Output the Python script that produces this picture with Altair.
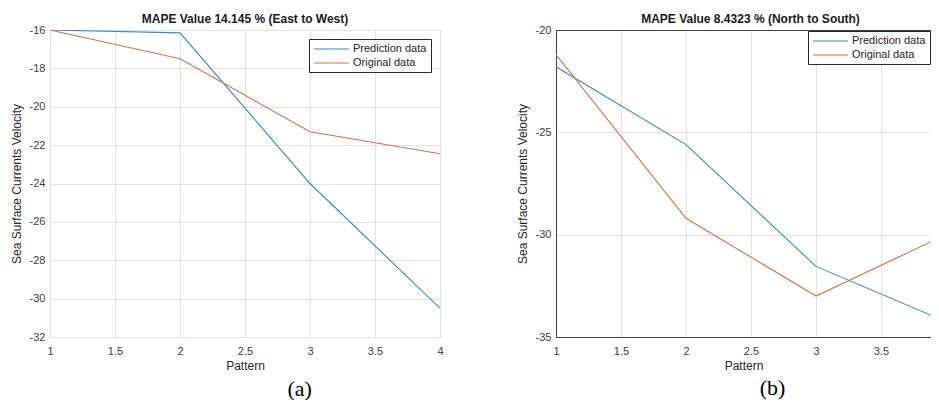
import altair as alt
import pandas as pd

patterns = [1, 2, 3, 4]
ew_prediction = [-16.0, -16.15, -24.0, -30.5]
ew_original = [-16.0, -17.5, -21.3, -22.45]
ns_prediction = [-21.8, -25.6, -31.55, -34.25]
ns_original = [-21.2, -29.2, -33.0, -30.0]

x_ticks = [1, 1.5, 2, 2.5, 3, 3.5, 4]
ew_y_ticks = [-32, -30, -28, -26, -24, -22, -20, -18, -16]
ns_y_ticks = [-35, -30, -25, -20]
series_names = ["Prediction data", "Original data"]
series_colors = ["#3389c6", "#d86f40"]

titles = ["MAPE Value 14.145 % (East to West)", "MAPE Value 8.4323 % (North to South)"]
captions = ["(a)", "(b)"]
FONT = "Liberation Sans"
FRAME = "#404040"


def make_panel(pred, orig, yticks, title, caption, cap_dx, width, x_max, leg_offset,
               title_dx, full_frame):
    df = pd.DataFrame({
        "Pattern": patterns + patterns,
        "Value": pred + orig,
        "Series": [series_names[0]] * len(pred) + [series_names[1]] * len(orig),
    })
    xscale = alt.Scale(domain=[1, x_max], nice=False, zero=False)
    yscale = alt.Scale(domain=[min(yticks), max(yticks)], nice=False, zero=False)
    xticks = [v for v in x_ticks if v <= x_max]
    y_enc = alt.Y("Value:Q", scale=yscale,
                  axis=alt.Axis(values=yticks, title="Sea Surface Currents Velocity",
                                labelExpr="datum.value + ''",
                                domain=not full_frame, domainColor=FRAME))
    lines = alt.Chart(df).mark_line(strokeWidth=1.1, clip=True).encode(
        x=alt.X("Pattern:Q", scale=xscale,
                axis=alt.Axis(values=xticks, title="Pattern", labelExpr="datum.value + ''",
                              domain=not full_frame, domainColor=FRAME)),
        y=y_enc,
        color=alt.Color("Series:N",
                        scale=alt.Scale(domain=series_names, range=series_colors),
                        legend=alt.Legend(title=None, orient="top-right", offset=leg_offset,
                                          strokeColor="#262626", fillColor="white",
                                          padding=4, symbolType="M-1,0H6", symbolSize=100,
                                          symbolStrokeWidth=1.1, labelFontSize=11,
                                          labelOffset=28, rowPadding=3, labelFont=FONT,
                                          labelColor="#262626", cornerRadius=0)),
    )
    title_params = alt.TitleParams(title, font=FONT, fontSize=12, fontWeight="bold",
                                   color="#1a1a1a", frame="group", anchor="middle",
                                   offset=-2, dx=title_dx)
    if full_frame:
        chart = lines.properties(width=width, height=307, title=title_params,
                                 view=alt.ViewBackground(stroke=FRAME, strokeWidth=1))
    else:
        top_edge = alt.Chart(df).mark_line(strokeOpacity=0, clip=True).encode(
            x=alt.X("Pattern:Q", scale=xscale,
                    axis=alt.Axis(orient="top", labels=False, ticks=False, grid=False,
                                  title=None, domain=True, domainColor=FRAME)),
            y=y_enc,
        )
        chart = alt.layer(lines, top_edge).resolve_axis(x="independent").properties(
            width=width, height=307, title=title_params,
            view=alt.ViewBackground(strokeWidth=0))
    return alt.vconcat(chart).resolve_legend(color="independent").properties(
        title=alt.TitleParams(caption, orient="bottom", font="Liberation Serif", fontSize=22,
                              fontWeight="normal", color="#000000", anchor="middle",
                              dx=cap_dx, offset=7)
    )


left = make_panel(ew_prediction, ew_original, ew_y_ticks, titles[0], captions[0],
                  73, 390, 4, 9, 0, True)
# right panel is cut off by the page edge in the reference (x axis visible up to ~3.89)
right = make_panel(ns_prediction, ns_original, ns_y_ticks, titles[1], captions[1],
                   49, 375, 1 + 375 / 130, 1, 7, False)

chart = alt.hconcat(left, right, spacing=72).resolve_legend(color="independent").properties(
    padding={"left": 1, "top": 4, "right": 0, "bottom": 0}
).configure_view(
    stroke=None
).configure_axis(
    grid=True, gridColor="#e2e2e2", ticks=False,
    labelFont=FONT, labelFontSize=11, labelColor="#404040",
    titleFont=FONT, titleFontSize=12, titleFontWeight="normal", titleColor="#262626",
    labelFlush=False, labelOverlap=False,
).configure_axisX(
    labelPadding=8, titlePadding=4
).configure_axisY(
    labelPadding=5, titlePadding=6
)

chart.save("out.html", embed_options={"renderer": "svg", "actions": False})
